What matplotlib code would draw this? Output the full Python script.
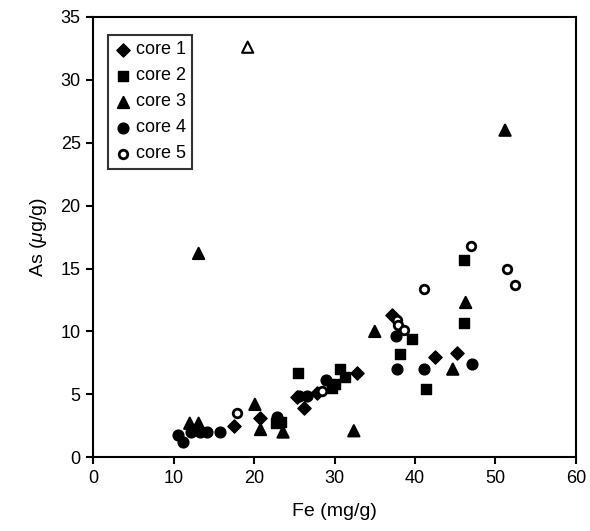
import matplotlib
matplotlib.use('Agg')
import matplotlib.pyplot as plt

plt.rcParams['font.family'] = ['Liberation Sans', 'DejaVu Sans']
plt.rcParams['mathtext.fontset'] = 'custom'
plt.rcParams['mathtext.rm'] = 'Liberation Sans'
plt.rcParams['mathtext.it'] = 'Liberation Sans:italic'

# Fe (mg/g) vs As (ug/g)
core1_fe = [17.5, 20.7, 25.3, 26.2, 27.8, 32.8, 37.2, 42.5, 45.2]
core1_as = [2.5, 3.1, 4.8, 3.9, 5.1, 6.7, 11.3, 8.0, 8.3]

core2_fe = [22.7, 23.3, 25.5, 29.7, 30.1, 30.7, 31.3, 38.1, 39.6, 41.4, 46.1, 46.1]
core2_as = [2.7, 2.8, 6.7, 5.5, 5.8, 7.0, 6.4, 8.2, 9.4, 5.4, 10.7, 15.7]

core3_fe = [12.0, 13.1, 13.1, 19.2, 20.1, 20.8, 23.6, 32.4, 35.0, 44.7, 46.3, 51.2]
core3_as = [2.7, 2.7, 16.2, 32.6, 4.2, 2.2, 2.0, 2.1, 10.0, 7.0, 12.3, 26.0]

core4_fe = [10.6, 11.2, 12.2, 13.3, 14.2, 15.8, 22.9, 25.6, 26.6, 28.9, 37.7, 37.8, 41.1, 47.1]
core4_as = [1.8, 1.2, 2.0, 2.0, 2.0, 2.0, 3.2, 4.9, 4.9, 6.1, 9.6, 7.0, 7.0, 7.4]

core5_fe = [17.9, 28.5, 37.8, 37.9, 38.6, 41.1, 47.0, 51.4, 52.4]
core5_as = [3.5, 5.3, 10.9, 10.5, 10.1, 13.4, 16.8, 15.0, 13.7]

x_ticks = [0, 10, 20, 30, 40, 50, 60]
y_ticks = [0, 5, 10, 15, 20, 25, 30, 35]

fig = plt.figure(figsize=(5.9, 5.31), dpi=100)
ax = fig.add_axes([0.158, 0.139, 0.818, 0.829])

ax.scatter(core1_fe, core1_as, marker='D', s=45, color='black', label='core 1', zorder=3)
ax.scatter(core2_fe, core2_as, marker='s', s=55, color='black', label='core 2', zorder=3)
# the top core 3 point shows up hollow in the original
tri_face = ['white' if a > 30 else 'black' for a in core3_as]
ax.scatter(core3_fe, core3_as, marker='^', s=65, facecolors=tri_face,
           edgecolors='black', linewidths=1.5, label='core 3', zorder=3)
ax.scatter(core4_fe, core4_as, marker='o', s=60, color='black', label='core 4', zorder=3)
ax.scatter(core5_fe, core5_as, marker='o', s=38, facecolors='white',
           edgecolors='black', linewidths=2, label='core 5', zorder=4)

ax.set_xlim(0, 60)
ax.set_ylim(0, 35)
ax.set_xticks(x_ticks)
ax.set_yticks(y_ticks)
ax.tick_params(direction='out', length=5, width=1.5, labelsize=13, pad=4)
for sp in ax.spines.values():
    sp.set_linewidth(1.5)

ax.set_xlabel('Fe (mg/g)', fontsize=14, labelpad=12)
ax.set_ylabel(r'As ($\mu$g/g)', fontsize=14, labelpad=8)

leg = ax.legend(loc='upper left', bbox_to_anchor=(0.031, 0.959), fontsize=13,
                frameon=True, fancybox=False, handletextpad=0.3, borderpad=0.35,
                labelspacing=0.5, handlelength=0.9, scatterpoints=1, borderaxespad=0)
leg.get_frame().set_edgecolor('black')
leg.get_frame().set_linewidth(1.5)
leg.legend_handles[2].set_facecolor('black')

fig.savefig('out.png', dpi=100)
